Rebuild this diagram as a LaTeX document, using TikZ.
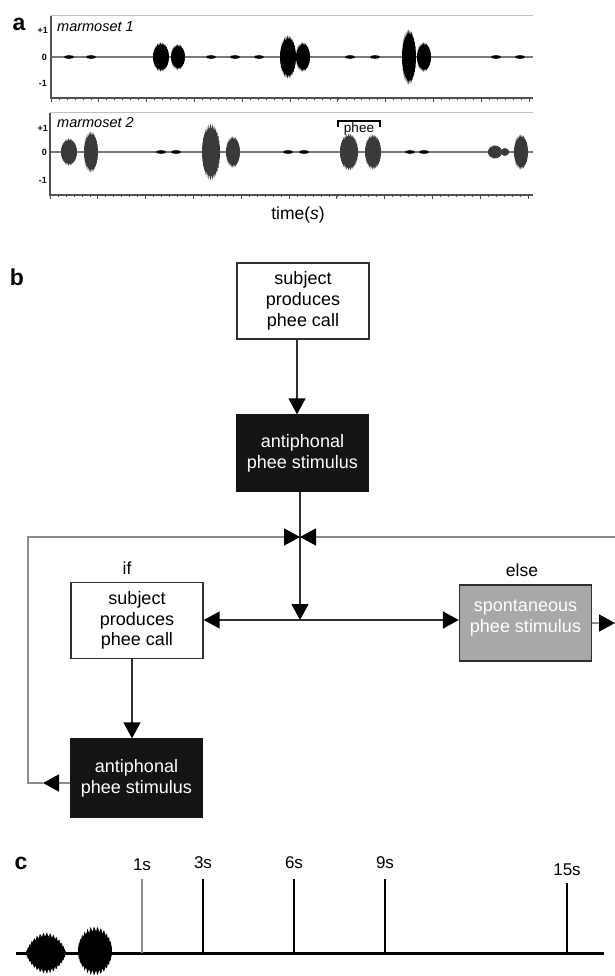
\documentclass[tikz,border=0pt]{standalone}
\usepackage{fontspec}
\setmainfont{Liberation Sans}
\usetikzlibrary{arrows.meta}
\definecolor{dk}{HTML}{303030}
\definecolor{lg}{HTML}{8C8C8C}
\definecolor{sg}{HTML}{A8A8A8}
\definecolor{bx}{HTML}{141414}
\definecolor{ax}{HTML}{505050}
\definecolor{zl}{HTML}{7A7A7A}
\definecolor{bu}{HTML}{3A3A3A}
\newcommand\burstshape[5]{%
  \fill[#5] plot[domain=0:360,samples=97,variable=\t] ({#1+#3*cos(\t)},{#2+#4*sin(\t)*(0.88+0.12*cos(31*\t))}) -- cycle;}
\newcommand\burstdiamond[5]{%
  \fill[#5] plot[domain=0:360,samples=121,variable=\t] ({#1+#3*cos(\t)},{#2+#4*sin(\t)*sqrt(abs(sin(\t)))*(0.88+0.12*cos(37*\t))}) -- cycle;}
\newcommand\blipmark[2]{\fill[black] (#1,#2) ellipse [x radius=5pt, y radius=1.8pt];}
\begin{document}
\begin{tikzpicture}[x=1pt,y=-1pt,
  wbox/.style={draw=dk, line width=1.4pt, fill=white, minimum width=132pt, minimum height=76pt, inner sep=0pt, align=center, font=\fontsize{18}{20.8}\selectfont},
  bbox/.style={wbox, fill=bx, draw=bx, text=white},
  gbox/.style={wbox, fill=sg},
  conn/.style={draw=dk, line width=1.5pt},
  loopl/.style={draw=lg, line width=1.5pt},
  tipe/.style={-{Triangle[length=16pt,width=17pt,color=black]}},
  panel/.style={font=\fontsize{23}{24}\selectfont\bfseries},
  lbl/.style={font=\fontsize{17.5}{20}\selectfont},
  ylab/.style={font=\fontsize{9}{9}\selectfont\bfseries, anchor=east, inner sep=0pt},
  axl/.style={draw=ax, line width=1.5pt},
  tl/.style={draw=black, line width=2pt}]
\useasboundingbox[fill=white] (0,0) rectangle (615,976);

% ---------------- panel a ----------------
\node[panel] (pa) at (19,24) {a};
% plot frames
\foreach \top/\bot/\zero/\lx in {16/98/57/51, 113/195/152/50}{
  \draw[draw=black!25, line width=1pt] (\lx,\top) -- (533,\top);
  \draw[draw=zl, line width=1.8pt] (\lx,\zero) -- (533,\zero);
  \foreach \i in {0,...,60}{\draw[ax, line width=0.7pt] ({\lx+\i*7.97},\bot) -- ({\lx+\i*7.97},\bot+2.5);}
  \foreach \i in {0,...,10}{\draw[ax, line width=0.9pt] ({\lx+\i*47.8},\bot) -- ({\lx+\i*47.8},\bot+4.5);}
  \draw[axl] (\lx,\top) -- (\lx,\bot) -- (533,\bot);
}
\node[ylab] (p1a) at (48,30) {+1};
\node[ylab] (p1b) at (47,57) {0};
\node[ylab] (p1c) at (47,83) {-1};
\node[ylab] (p2a) at (48,128) {+1};
\node[ylab] (p2b) at (47,152) {0};
\node[ylab] (p2c) at (47,180) {-1};
\node[font=\fontsize{14.5}{16}\selectfont\itshape, anchor=west, inner sep=0pt] (m1) at (57,27) {marmoset 1};
\node[font=\fontsize{14.5}{16}\selectfont\itshape, anchor=west, inner sep=0pt] (m2) at (57,123) {marmoset 2};
% marmoset 1 calls
\burstshape{161}{57}{8}{15}{black}
\burstshape{178}{57}{7}{13}{black}
\burstshape{288}{57}{8}{22}{black}
\burstshape{303}{57}{7}{15}{black}
\burstshape{409}{57}{7}{28}{black}
\burstshape{424}{57}{7}{15}{black}
\foreach \bx in {69,91,211,235,259,350,375,496,520}{\blipmark{\bx}{57}}
% marmoset 2 calls
\burstshape{69}{152}{8}{14}{bu}
\burstshape{91}{152}{7}{21}{bu}
\burstshape{211}{152}{9}{29}{bu}
\burstshape{233}{152}{7}{16}{bu}
\burstshape{349}{152}{9}{19}{bu}
\burstshape{373}{152}{8}{18}{bu}
\burstshape{495}{152}{7}{7}{bu}
\burstshape{505}{152}{4}{4}{bu}
\burstshape{521}{152}{7}{18}{bu}
\foreach \bx in {161,176,288,304,410,424}{\blipmark{\bx}{152}}
% phee bracket
\node[font=\fontsize{13.5}{14}\selectfont, inner sep=0pt] (phee) at (359,129.5) {phee};
\coordinate (brl) at (338,127);
\coordinate (brr) at (380,127);
\draw[black, line width=1.2pt] (brl) -- (brl |- 0,121) -- (brr |- 0,121) -- (brr);
\node[lbl] (time) at (298,215) {time(\textit{s})};

% ---------------- panel b ----------------
\node[panel] (pb) at (17,277) {b};
\node[wbox] (box1) at (303,301) {subject\\produces\\phee call};
\node[bbox] (blk1) at (302.5,453) {antiphonal\\phee stimulus};
\node[wbox] (lbox) at (137,620.5) {subject\\produces\\phee call};
\node[gbox] (spont) at (525.5,623) {};
\node[font=\fontsize{18}{20.8}\selectfont, text=white, align=center, inner sep=0pt] (sptxt) at ([yshift=5pt]spont.center) {spontaneous\\phee stimulus};
\node[bbox, minimum height=78pt] (blk2) at (136.5,778) {antiphonal\\phee stimulus};
\node[lbl] (iflbl) at (127,568) {if};
\node[lbl] (elselbl) at (522,570) {else};

\coordinate (cross) at (300,537);
\coordinate (hub) at (300,620);
\coordinate (lc1) at (28,783);
\coordinate (lc2) at (28,537);
\coordinate (ltip) at (43,783);
\coordinate (re1) at (615,537);
\coordinate (re2) at (615,623);

\draw[conn, tipe] (box1.south -| 297,0) -- (blk1.north -| 297,0);
\draw[conn, tipe] (blk1.south -| hub) -- (hub);
\draw[conn, tipe] (hub) -- (lbox.east |- hub);
\draw[conn, tipe] (hub) -- (spont.west |- hub);
\draw[conn, tipe] (lbox.south -| 132,0) -- (blk2.north -| 132,0);
\draw[loopl, tipe] (blk2.west |- ltip) -- (ltip);
\draw[loopl, tipe] (ltip) -- (lc1) -- (lc2) -- (cross);
\draw[loopl, tipe] (re1) -- (cross);
\draw[loopl, tipe] (spont.east) -- (re2);

% ---------------- panel c ----------------
\node[panel] (pc) at (21,863) {c};
\coordinate (bl) at (16,953);
\coordinate (br) at (604,953);
\burstdiamond{46}{953}{20}{21}{black}
\burstshape{95}{951}{17}{25}{black}
\draw[black, line width=3pt] (bl) -- (br);
\foreach \nm/\xx/\ly/\ty/\txt in {t1/142/865/879/1s, t3/203/863/879/3s, t6/294/863/879/6s, t9/385/863/879/9s, t15/567/870/883/15s}{
  \node[font=\fontsize{17}{18}\selectfont, inner sep=0pt] (\nm) at (\xx,\ly) {\txt};
  \coordinate (\nm top) at (\xx,\ty);
}
\draw[lg, line width=1.3pt] (t1top) -- (t1top |- bl);
\foreach \nm in {t3,t6,t9,t15}{\draw[tl] (\nm top) -- (\nm top |- bl);}
\end{tikzpicture}
\end{document}
